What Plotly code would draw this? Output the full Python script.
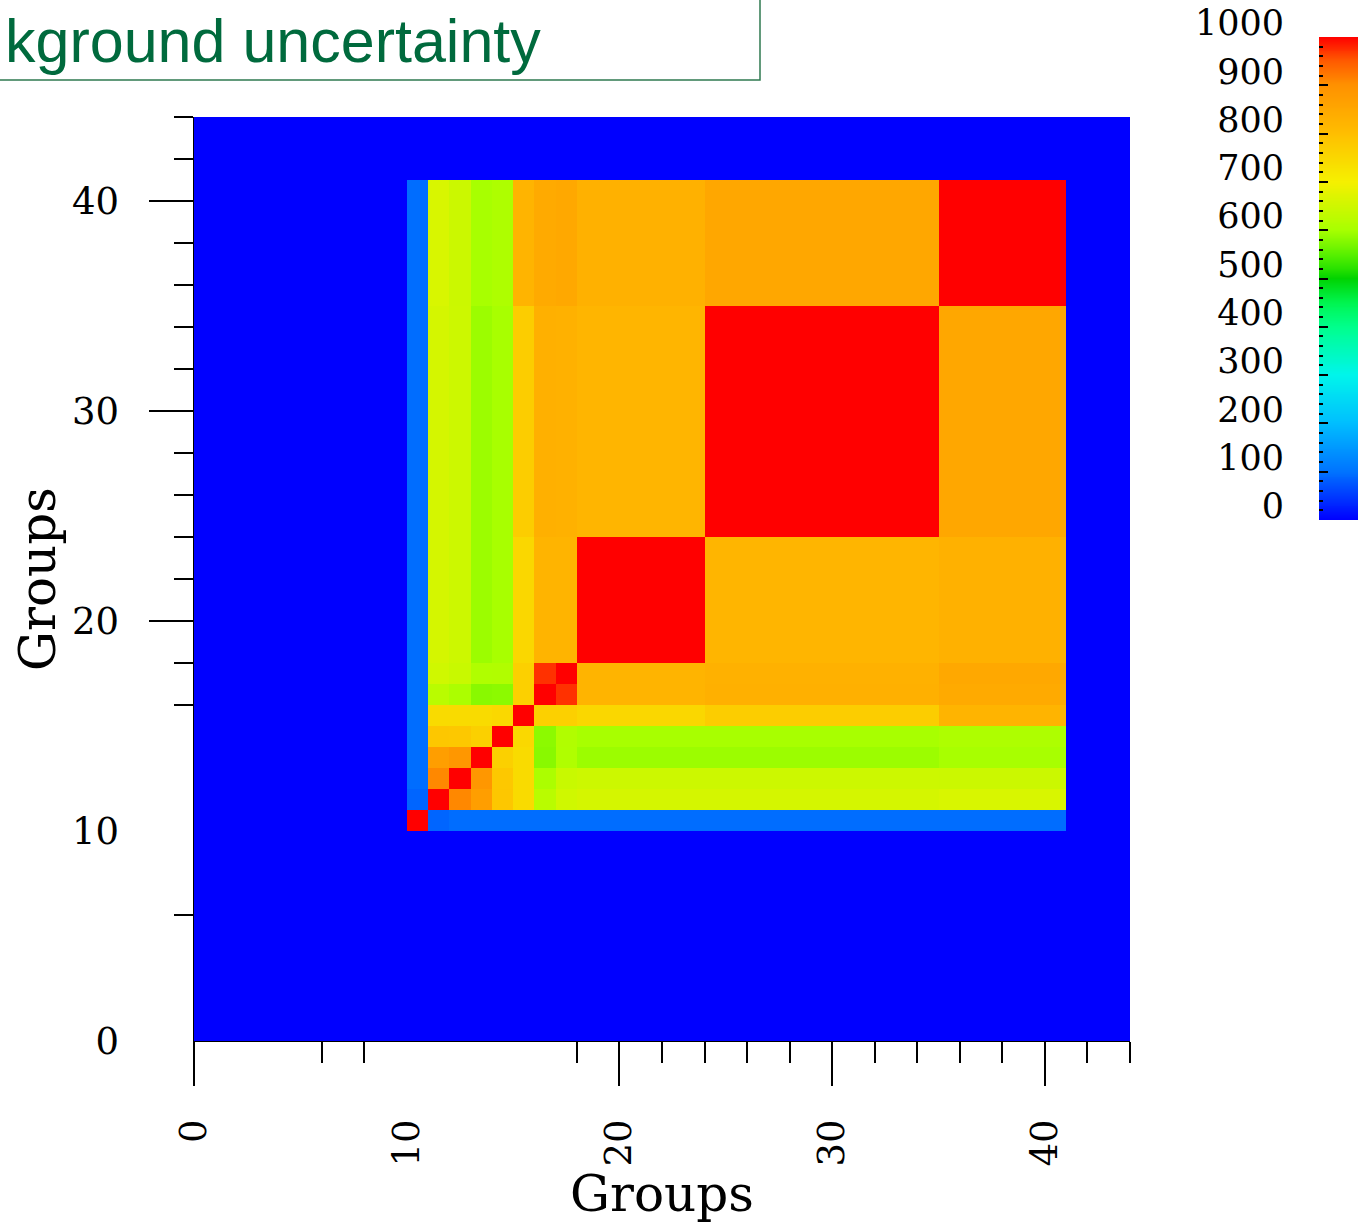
import numpy as np
import plotly.graph_objects as go

# ---------------- data ----------------
n_groups = 44  # axis extent 0..44
# correlation blocks (group index ranges, upper edge exclusive)
block_lo = [10, 11, 12, 13, 14, 15, 16, 17, 18, 24, 35]
block_hi = [11, 12, 13, 14, 15, 16, 17, 18, 24, 35, 41]
# symmetric block-to-block values
blk_10 = [1000, 88, 95, 95, 95, 95, 95, 95, 95, 95, 95]
blk_11 = [88, 1000, 908, 872, 782, 742, 622, 650, 657, 657, 662]
blk_12 = [95, 908, 1000, 886, 780, 742, 605, 642, 647, 647, 645]
blk_13 = [95, 872, 886, 1000, 764, 742, 580, 610, 592, 592, 600]
blk_14 = [95, 782, 780, 764, 1000, 748, 582, 612, 600, 600, 608]
blk_15 = [95, 742, 742, 742, 748, 1000, 765, 765, 750, 770, 822]
blk_16 = [95, 622, 605, 580, 582, 765, 1000, 973, 822, 832, 845]
blk_17 = [95, 650, 642, 610, 612, 765, 973, 1000, 822, 830, 850]
blk_18_23 = [95, 657, 647, 592, 600, 750, 822, 822, 1000, 820, 830]
blk_24_34 = [95, 657, 647, 592, 600, 770, 832, 830, 820, 1000, 852]
blk_35_40 = [95, 662, 645, 600, 608, 822, 845, 850, 830, 852, 1000]
block_table = [blk_10, blk_11, blk_12, blk_13, blk_14, blk_15, blk_16, blk_17,
               blk_18_23, blk_24_34, blk_35_40]

axis_tick_labels = [0, 10, 20, 30, 40]
long_ticks_x = [0, 20, 30, 40]
short_ticks_x = [6, 8, 18, 22, 24, 26, 28, 32, 34, 36, 38, 42, 44]
long_ticks_y = [20, 30, 40]
short_ticks_y = [6, 16, 18, 22, 24, 26, 28, 32, 34, 36, 38, 42, 44]
cbar_ticks = [0, 100, 200, 300, 400, 500, 600, 700, 800, 900, 1000]

colorscale = [
    [0.0, "#0000ff"], [0.1, "#0073ff"], [0.2, "#00beff"], [0.3, "#00f5eb"],
    [0.4, "#00ff8c"], [0.45, "#00f550"], [0.5, "#00d200"], [0.52, "#28e100"],
    [0.55, "#5af000"], [0.6, "#a8ff00"], [0.7, "#f5f000"], [0.8, "#ffbe00"],
    [0.9, "#ff9100"], [0.95, "#ff5a00"], [1.0, "#ff0000"],
]

# ---------------- build matrix ----------------
z = np.zeros((n_groups, n_groups))
for a in range(len(block_lo)):
    for b in range(len(block_lo)):
        z[block_lo[a]:block_hi[a], block_lo[b]:block_hi[b]] = block_table[a][b]
centers = np.arange(n_groups) + 0.5

W, H = 1358, 1223
def px_x(p):
    return p / W
def px_y(p):
    return (H - p) / H

serif = "DejaVu Serif"
fig = go.Figure()
fig.add_trace(go.Heatmap(z=z, x=centers, y=centers, zmin=0, zmax=1000,
                         colorscale=colorscale, showscale=False,
                         xaxis="x", yaxis="y"))
# colour ramp drawn as its own heatmap on a dedicated axis
ramp = np.arange(1, 1000, 2)
fig.add_trace(go.Heatmap(z=[[v] for v in ramp], y=ramp, x=[0], zmin=0, zmax=1000,
                         colorscale=colorscale, showscale=False,
                         xaxis="x3", yaxis="y3", hoverinfo="skip"))
fig.add_trace(go.Scatter(x=[], y=[], xaxis="x2", yaxis="y2", showlegend=False))

xdom = [px_x(194), px_x(1130)]
ydom = [px_y(1041), px_y(117)]
tickfont = dict(family=serif, size=37, color="black")
titlefont = dict(family=serif, size=50, color="black")

fig.update_layout(
    width=W, height=H, margin=dict(l=0, r=0, t=0, b=0, pad=0),
    paper_bgcolor="white", plot_bgcolor="white", showlegend=False,
    xaxis=dict(domain=xdom, range=[0, 44], anchor="y", automargin=False,
               showgrid=False, zeroline=False,
               showline=True, linecolor="black", linewidth=1,
               tickmode="array", tickvals=long_ticks_x, ticks="outside", ticklen=44,
               tickwidth=1.5, tickcolor="black", showticklabels=False,
               minor=dict(tickmode="array", tickvals=short_ticks_x, ticks="outside",
                          ticklen=21, tickwidth=1.5, tickcolor="black", showgrid=False)),
    yaxis=dict(domain=ydom, range=[0, 44], anchor="x", automargin=False,
               showgrid=False, zeroline=False,
               showline=True, linecolor="black", linewidth=1,
               tickmode="array", tickvals=long_ticks_y, ticks="outside", ticklen=44,
               tickwidth=1.5, tickcolor="black", showticklabels=False,
               minor=dict(tickmode="array", tickvals=short_ticks_y, ticks="outside",
                          ticklen=19, tickwidth=1.5, tickcolor="black", showgrid=False)),
    xaxis2=dict(overlaying="x", anchor="y2", domain=xdom, range=[0, 44], side="bottom",
                automargin=False, showgrid=False, zeroline=False, showline=False,
                tickmode="array", tickvals=axis_tick_labels,
                ticktext=[str(v) for v in axis_tick_labels], ticks="",
                tickangle=-90, tickfont=tickfont, ticklabelstandoff=70,
                title=dict(text="Groups", font=titlefont, standoff=4)),
    yaxis2=dict(overlaying="y", anchor="x2", domain=ydom, range=[0, 44], side="left",
                automargin=False, showgrid=False, zeroline=False, showline=False,
                tickmode="array", tickvals=axis_tick_labels,
                ticktext=[str(v) for v in axis_tick_labels], ticks="",
                tickfont=tickfont, ticklabelstandoff=74,
                title=dict(text="Groups", font=titlefont, standoff=0)),
    xaxis3=dict(domain=[px_x(1319), 1.0], range=[-0.5, 0.5], anchor="y3",
                visible=False, automargin=False),
    yaxis3=dict(domain=[px_y(520), px_y(37)], range=[0, 1000], anchor="x3", side="left",
                automargin=False, showgrid=False, zeroline=False, showline=False,
                tickmode="array", tickvals=cbar_ticks,
                ticktext=[str(v) for v in cbar_ticks],
                ticks="inside", ticklen=9, tickwidth=2, tickcolor="black",
                ticklabelposition="outside", ticklabelstandoff=34, ticklabelshift=-14,
                tickfont=dict(family=serif, size=35, color="black"),
                minor=dict(tickmode="linear", tick0=0, dtick=20, ticks="inside",
                           ticklen=4, tickwidth=2, tickcolor="black", showgrid=False)),
    shapes=[dict(type="rect", xref="paper", yref="paper",
                 x0=-0.01, x1=px_x(760), y0=px_y(80), y1=1.01,
                 line=dict(color="#2f7a50", width=1.5), fillcolor="rgba(0,0,0,0)")],
    annotations=[dict(text="kground uncertainty", xref="paper", yref="paper",
                      x=px_x(3), y=px_y(41), xanchor="left", yanchor="middle",
                      showarrow=False,
                      font=dict(family="Liberation Sans", size=61, color="#006a3d"))],
)

fig.write_html("out.html")
